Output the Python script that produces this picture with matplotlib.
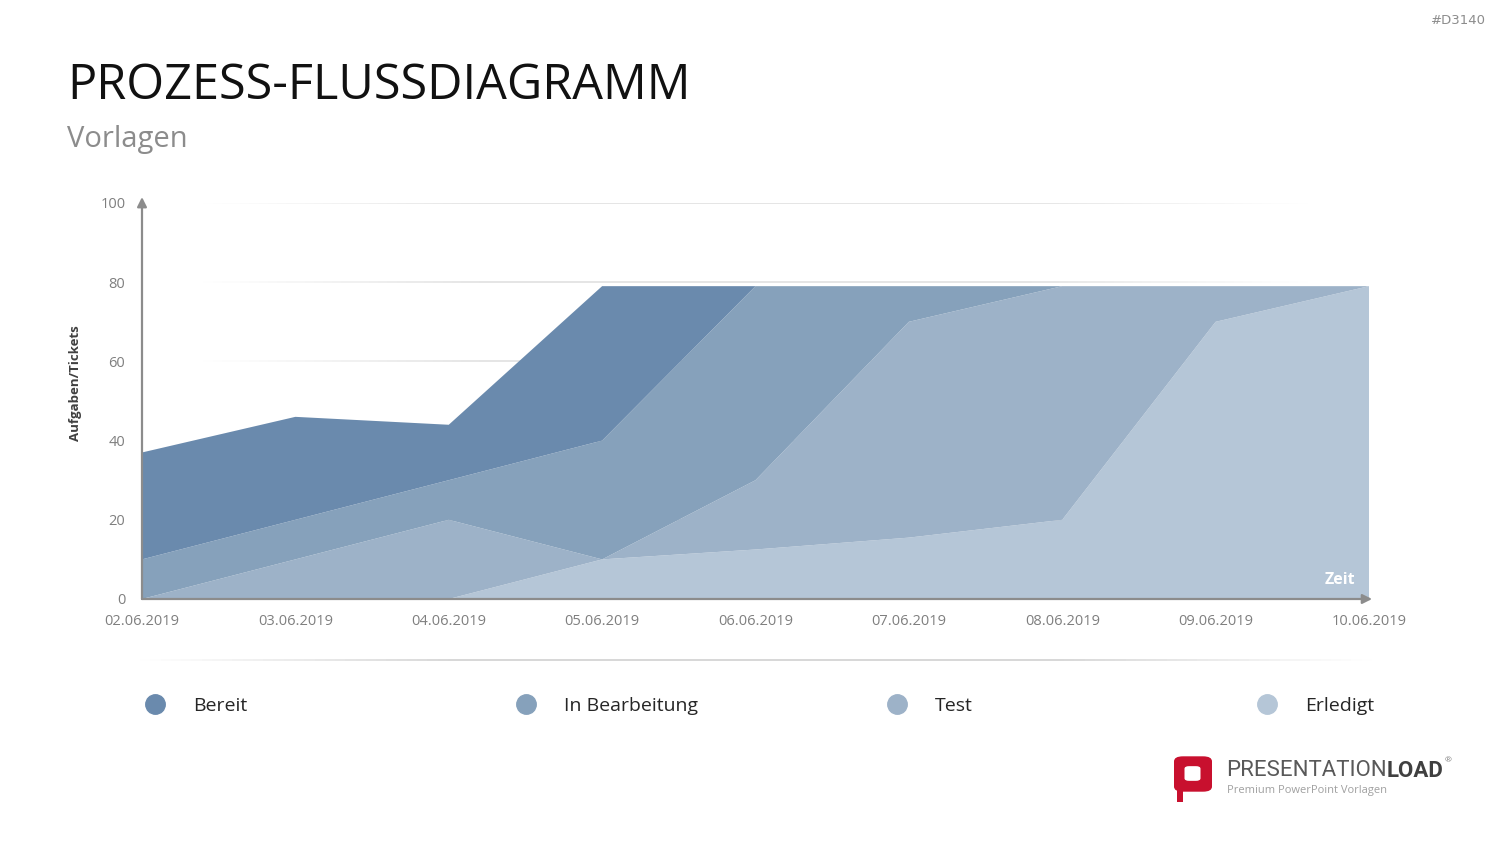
import matplotlib.pyplot as plt
import numpy as np
from matplotlib.patches import FancyBboxPatch, Rectangle
from matplotlib.collections import LineCollection
from matplotlib.colors import to_rgba

plt.rcParams['font.family'] = ['Open Sans', 'DejaVu Sans']

# data
dates = ["02.06.2019", "03.06.2019", "04.06.2019", "05.06.2019", "06.06.2019",
         "07.06.2019", "08.06.2019", "09.06.2019", "10.06.2019"]
erledigt = [0, 0, 0, 10, 12.5, 15.5, 20, 70, 79]
test = [0, 10, 20, 0, 17.5, 54.5, 59, 9, 0]
in_bearbeitung = [10, 10, 10, 30, 49, 9, 0, 0, 0]
bereit = [27, 26, 14, 39, 0, 0, 0, 0, 0]
series_names = ["Bereit", "In Bearbeitung", "Test", "Erledigt"]
colors = ["#6a8aad", "#86a1bb", "#9db2c8", "#b5c6d7"]

W, H = 1500, 844
fig = plt.figure(figsize=(W / 100, H / 100), dpi=100)


# line that fades out at both ends
def fade_segments(x0, x1, y0, color, peak, n=120):
    xs = np.linspace(x0, x1, n + 1)
    segs = [[(xs[i], y0), (xs[i + 1], y0)] for i in range(n)]
    rgba = []
    for i in range(n):
        t = (i + 0.5) / n
        rgba.append(to_rgba(color, peak * min(1, min(t, 1 - t) * 4)))
    return segs, rgba


ax = fig.add_axes([142 / W, 1 - 599 / H, (1369 - 142) / W, (599 - 203) / H])
x = np.arange(len(dates))
ax.set_xlim(0, len(dates) - 1)
ax.set_ylim(0, 100)

# grid lines, behind the areas
for yv in [20, 40, 60, 80, 100]:
    segs, rgba = fade_segments(0.4, 7.6, yv, "#d9d9d9", 0.8)
    ax.add_collection(LineCollection(segs, colors=rgba, linewidths=1.2,
                                     capstyle="butt", zorder=0))

ax.stackplot(x, erledigt, test, in_bearbeitung, bereit,
             colors=colors[::-1], linewidth=0, zorder=2)

for s in ax.spines.values():
    s.set_visible(False)
ax.set_xticks(x)
ax.set_xticklabels(dates)
ax.set_yticks([0, 20, 40, 60, 80, 100])
ax.tick_params(length=0, labelsize=10.5, labelcolor="#7f7f7f")
ax.tick_params(axis="x", pad=11)
ax.tick_params(axis="y", pad=12)

# axis arrows
ax.annotate("", xy=(0, 101.5), xytext=(0, 0), xycoords="data",
            arrowprops=dict(arrowstyle="-|>", color="#8c8c8c", lw=1.6,
                            mutation_scale=14, shrinkA=0, shrinkB=0),
            annotation_clip=False, zorder=5)
ax.annotate("", xy=(8 + 0.02, 0), xytext=(0, 0), xycoords="data",
            arrowprops=dict(arrowstyle="-|>", color="#8c8c8c", lw=1.6,
                            mutation_scale=14, shrinkA=0, shrinkB=0),
            annotation_clip=False, zorder=5)

ax.text(7.81, 4.8, "Zeit", color="white", fontsize=11.5, fontweight="bold",
        ha="center", va="center", zorder=6)

fig.text(75 / W, 1 - 383 / H, "Aufgaben/Tickets", rotation=90, fontsize=9.5,
         fontweight="bold", color="#404040", ha="center", va="center")

# titles
fig.text(67 / W, 1 - 80 / H, "PROZESS-FLUSSDIAGRAMM", fontsize=35,
         color="#111111", ha="left", va="center_baseline")
fig.text(67 / W, 1 - 136 / H, "Vorlagen", fontsize=21, color="#8c8c8c",
         ha="left", va="center_baseline")
fig.text(1486 / W, 1 - 20 / H, "#D3140", fontsize=9.5, color="#8c8c8c",
         ha="right", va="center", family="DejaVu Sans")

# separator
segs, rgba = fade_segments(140 / W, 1372 / W, 1 - 660 / H, "#d0d0d0", 0.9)
fig.add_artist(LineCollection(segs, colors=rgba, linewidths=1.3, capstyle="butt",
                              transform=fig.transFigure))

# legend
mx = [155, 526, 897, 1267]
for name, c, xm in zip(series_names, colors, mx):
    fig.add_artist(plt.Line2D([xm / W], [1 - 704 / H], marker="o", markersize=14,
                              color=c, linestyle="none"))
    fig.text((xm + 38) / W, 1 - 704 / H, name, fontsize=14, color="#262626",
             ha="left", va="center_baseline")

# logo
fig.add_artist(FancyBboxPatch((1177 / W, 1 - 790 / H), 32 / W, 32 / H,
                              boxstyle="round,pad=0.002,rounding_size=0.006",
                              facecolor="#c8102e", edgecolor="none"))
fig.add_artist(Rectangle((1177 / W, 1 - 802 / H), 6 / W, 14 / H,
                         facecolor="#c8102e", edgecolor="none"))
fig.add_artist(FancyBboxPatch((1186 / W, 1 - 780 / H), 13 / W, 13 / H,
                              boxstyle="round,pad=0.001,rounding_size=0.003",
                              facecolor="white", edgecolor="none"))
t1 = fig.text(1226 / W, 1 - 771 / H, "PRESENTATION", fontsize=16, color="#595959",
              ha="left", va="center", family="Roboto")
fig.canvas.draw()
bb = t1.get_window_extent()
t2 = fig.text(bb.x1 / W, 1 - 771 / H, "LOAD", fontsize=16, color="#404040",
              fontweight="bold", ha="left", va="center", family="Roboto")
fig.canvas.draw()
bb2 = t2.get_window_extent()
fig.text(bb2.x1 / W + 0.001, 1 - 761 / H, "®", fontsize=6, color="#808080",
         ha="left", va="center")
fig.text(1227 / W, 1 - 791 / H, "Premium PowerPoint Vorlagen", fontsize=8,
         color="#a0a0a0", ha="left", va="center")

fig.savefig("out.png", dpi=100, facecolor="white")
